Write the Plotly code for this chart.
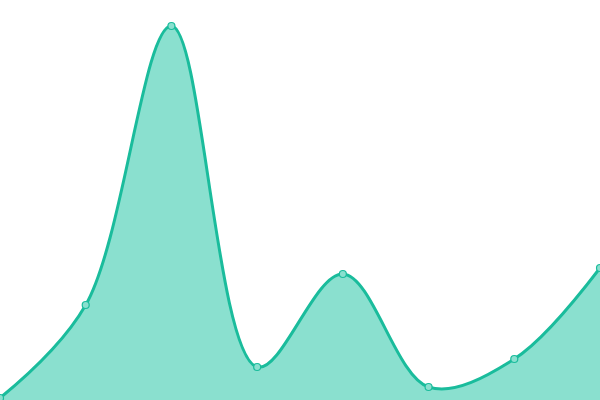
import plotly.graph_objects as go

x_vals = [0, 1, 2, 3, 4, 5, 6, 7]
y_vals = [2, 95, 374, 33, 126, 13, 41, 132]

fig = go.Figure()
fig.add_trace(go.Scatter(
    x=x_vals, y=y_vals, mode="lines+markers",
    line=dict(color="#1abc9c", width=3, shape="spline", smoothing=1.0),
    fill="tozeroy", fillcolor="#8ae0cf",
    marker=dict(size=7, color="#8ae0cf", line=dict(color="#1abc9c", width=1.2)),
    cliponaxis=False,
    hoverinfo="skip",
))
fig.update_layout(
    width=600, height=400,
    margin=dict(l=0, r=0, t=0, b=0),
    paper_bgcolor="white", plot_bgcolor="white",
    showlegend=False,
    xaxis=dict(visible=False, range=[0, 7]),
    yaxis=dict(visible=False, range=[0, 400]),
)
fig.write_html("out.html",
               config={"displayModeBar": False, "staticPlot": True},
               post_script="document.body.style.margin='0';document.body.style.overflow='hidden';")
